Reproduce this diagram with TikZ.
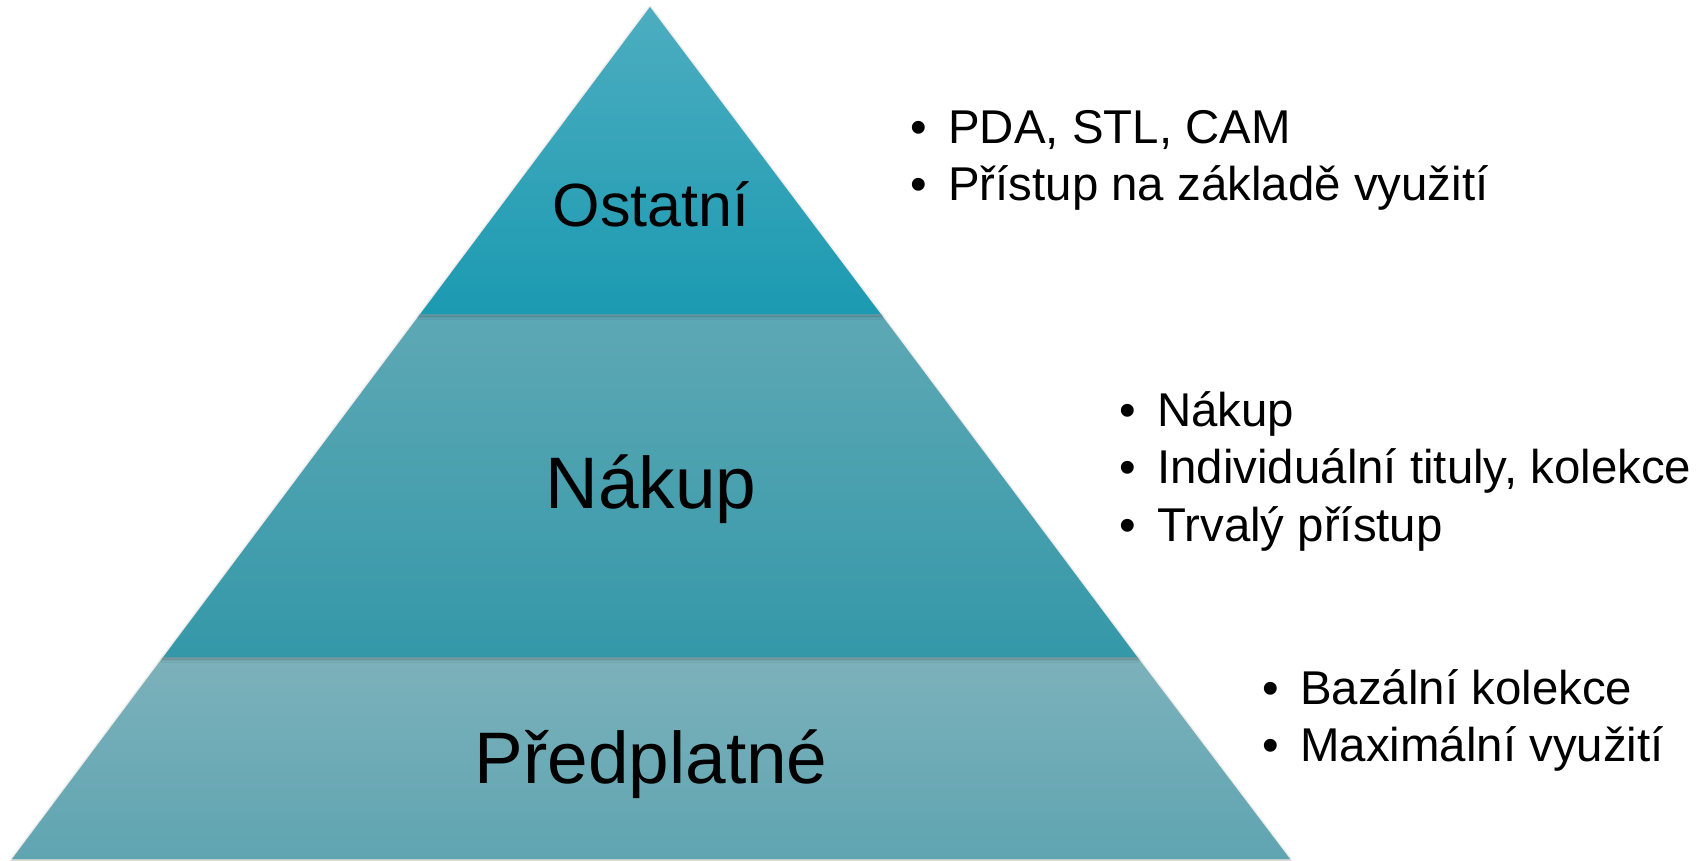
\documentclass[tikz,border=0pt]{standalone}
\usepackage{fontspec}
\setmainfont{Liberation Sans}
\usetikzlibrary{shadows.blur}
\definecolor{topA}{HTML}{4DADC0}
\definecolor{topB}{HTML}{1B9AB1}
\definecolor{midA}{HTML}{5EA8B5}
\definecolor{midB}{HTML}{3498A8}
\definecolor{botA}{HTML}{7CB1BB}
\definecolor{botB}{HTML}{5FA5B1}
\tikzset{
  layer/.style={draw=none, blur shadow={shadow blur steps=6, shadow xshift=0pt, shadow yshift=-0.5pt, shadow opacity=30, shadow blur radius=1.5pt}},
  sep/.style={draw=black!40, opacity=0.45, line width=0.6pt},
  lbl/.style={anchor=base, inner sep=0pt, text=black},
  bul/.style={anchor=base west, inner sep=0pt, text=black, font=\fontsize{23.7}{28}\selectfont}
}
\begin{document}
\begin{tikzpicture}[x=0.5pt, y=-0.5pt]
\useasboundingbox (0,0) rectangle (1707,861);
% layers (bottom first)
\path[layer, top color=botA, bottom color=botB] (162.5,658) -- (1138,658) -- (1290,859) -- (12,859) -- cycle;
\path[layer, top color=midA, bottom color=midB] (419.5,315) -- (881.5,315) -- (1138,658) -- (162.5,658) -- cycle;
\path[layer, top color=topA, bottom color=topB] (650,7) -- (881.5,315) -- (419.5,315) -- cycle;
\draw[sep] (419.5,315) -- (881.5,315);
\draw[sep] (162.5,658) -- (1138,658);
% labels
\node[lbl, font=\fontsize{30.5}{36}\selectfont] (ost) at (651,227) {Ostatní};
\node[lbl, font=\fontsize{36.5}{44}\selectfont] (nak) at (651,508) {Nákup};
\node[lbl, font=\fontsize{36.5}{44}\selectfont] (pre) at (651,783) {Předplatné};
% bullets
\node[bul] (b1a) at (910,144) {•\hspace{0.45em}PDA, STL, CAM};
\node[bul] (b1b) at (910,201) {•\hspace{0.45em}Přístup na základě využití};
\node[bul] (b2a) at (1119,426) {•\hspace{0.45em}Nákup};
\node[bul] (b2b) at (1119,483) {•\hspace{0.45em}Individuální tituly, kolekce};
\node[bul] (b2c) at (1119,541) {•\hspace{0.45em}Trvalý přístup};
\node[bul] (b3a) at (1262,704) {•\hspace{0.45em}Bazální kolekce};
\node[bul] (b3b) at (1262,761) {•\hspace{0.45em}Maximální využití};
\end{tikzpicture}
\end{document}
